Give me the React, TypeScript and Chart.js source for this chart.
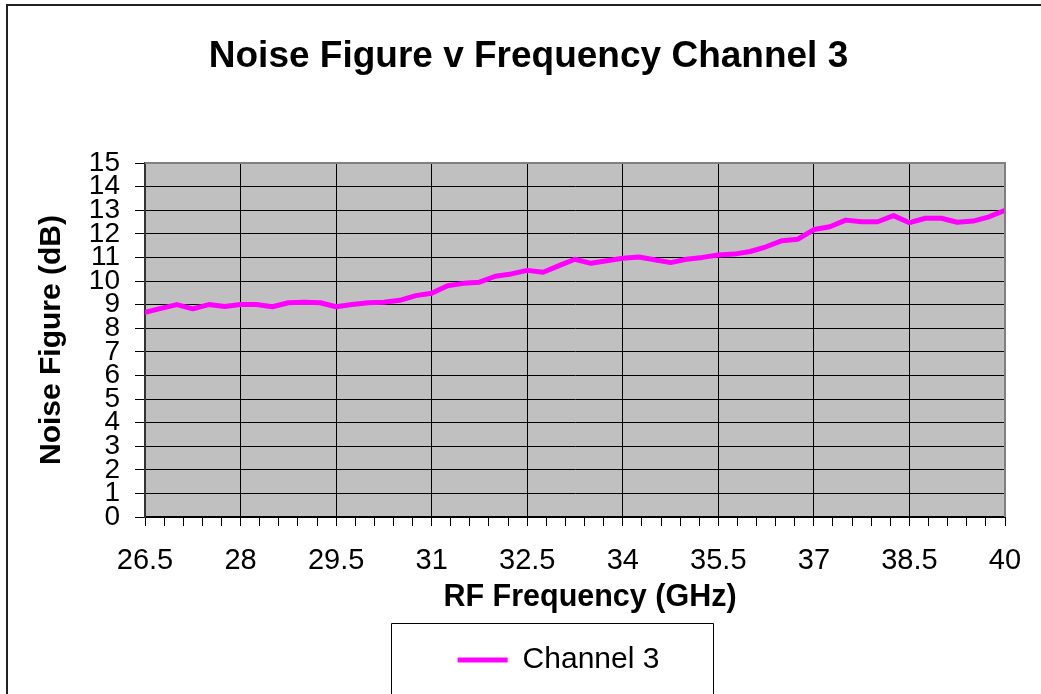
import React, { useEffect, useRef } from "react";
import { Chart, registerables } from "chart.js";

Chart.register(...registerables);

const FREQS = [
  26.5, 26.75, 27.0, 27.25, 27.5, 27.75, 28.0, 28.25, 28.5, 28.75,
  29.0, 29.25, 29.5, 29.75, 30.0, 30.25, 30.5, 30.75, 31.0, 31.25,
  31.5, 31.75, 32.0, 32.25, 32.5, 32.75, 33.0, 33.25, 33.5, 33.75,
  34.0, 34.25, 34.5, 34.75, 35.0, 35.25, 35.5, 35.75, 36.0, 36.25,
  36.5, 36.75, 37.0, 37.25, 37.5, 37.75, 38.0, 38.25, 38.5, 38.75,
  39.0, 39.25, 39.5, 39.75, 40.0,
];

const CHANNEL3_NF = [
  8.67, 8.84, 9.0, 8.82, 9.0, 8.92, 9.0, 9.0, 8.91, 9.08,
  9.1, 9.08, 8.91, 9.0, 9.08, 9.1, 9.18, 9.38, 9.48, 9.8,
  9.9, 9.95, 10.2, 10.3, 10.45, 10.37, 10.65, 10.92, 10.75, 10.86,
  10.96, 11.02, 10.9, 10.78, 10.92, 11.0, 11.1, 11.14, 11.25, 11.45,
  11.71, 11.77, 12.18, 12.3, 12.58, 12.51, 12.51, 12.77, 12.47, 12.66,
  12.66, 12.49, 12.54, 12.72, 13.0,
];

const X_TICK_LABELS = ["26.5", "28", "29.5", "31", "32.5", "34", "35.5", "37", "38.5", "40"];

const FONT = "'Liberation Sans', Arial, Helvetica, sans-serif";

const decorPlugin = {
  id: "decor",
  afterLayout(chart: any) {
    const t = chart.titleBlock;
    if (t) {
      t.left += 21;
      t.right += 21;
    }
    const l = chart.legend;
    if (l) {
      l.left += 51;
      l.right += 51;
    }
    const xs = chart.scales.x;
    if (xs && !xs._titleWrapped) {
      const orig = xs.drawTitle.bind(xs);
      xs.drawTitle = function () {
        this.left += 15;
        this.right += 15;
        orig();
        this.left -= 15;
        this.right -= 15;
      };
      xs._titleWrapped = true;
    }
  },
  beforeDraw(chart: any) {
    const { ctx, chartArea } = chart;
    ctx.save();
    ctx.fillStyle = "#ffffff";
    ctx.fillRect(0, 0, chart.width, chart.height);
    ctx.fillStyle = "#C0C0C0";
    ctx.fillRect(chartArea.left, chartArea.top, chartArea.right - chartArea.left, chartArea.bottom - chartArea.top);
    ctx.restore();
  },
  afterDraw(chart: any) {
    const { ctx, chartArea } = chart;
    ctx.save();
    ctx.strokeStyle = "#808080";
    ctx.lineWidth = 2;
    ctx.beginPath();
    ctx.moveTo(chartArea.left, chartArea.top);
    ctx.lineTo(chartArea.right, chartArea.top);
    ctx.lineTo(chartArea.right, chartArea.bottom);
    ctx.stroke();
    ctx.strokeStyle = "#222222";
    ctx.lineWidth = 2;
    ctx.strokeRect(7, 5, chart.width + 50, chart.height + 50);
    const l = chart.legend;
    if (l && l.legendHitBoxes && l.legendHitBoxes.length) {
      const hb = l.legendHitBoxes[0];
      const boxLeft = Math.round(hb.left - 67);
      const boxRight = Math.round(hb.left + hb.width + 54);
      const boxTop = Math.round(l.top - 12);
      ctx.strokeStyle = "#000000";
      ctx.lineWidth = 1;
      ctx.beginPath();
      ctx.moveTo(boxLeft + 0.5, chart.height + 10);
      ctx.lineTo(boxLeft + 0.5, boxTop + 0.5);
      ctx.lineTo(boxRight + 0.5, boxTop + 0.5);
      ctx.lineTo(boxRight + 0.5, chart.height + 10);
      ctx.stroke();
    }
    ctx.restore();
  },
};

export default function App() {
  const canvasRef = useRef<HTMLCanvasElement | null>(null);

  useEffect(() => {
    const canvas = canvasRef.current;
    if (!canvas) return;
    const points = FREQS.map((f, i) => ({ x: f, y: CHANNEL3_NF[i] }));
    const chart = new Chart(canvas, {
      type: "line",
      data: {
        datasets: [
          {
            label: "Channel 3",
            data: points,
            borderColor: "#FF00FF",
            backgroundColor: "#FF00FF",
            borderWidth: 5,
            pointRadius: 0,
            tension: 0,
            borderJoinStyle: "round",
            borderCapStyle: "round",
          },
        ],
      },
      options: {
        responsive: false,
        animation: false,
        events: [],
        layout: { padding: { left: 10, right: 36, top: 0, bottom: 9 } },
        plugins: {
          title: {
            display: true,
            text: "Noise Figure v Frequency Channel 3",
            color: "#000",
            font: { family: FONT, size: 37, weight: "bold" },
            padding: { top: 35, bottom: 83.6 },
          },
          legend: {
            display: true,
            position: "bottom",
            labels: {
              color: "#000",
              font: { family: FONT, size: 30 },
              usePointStyle: true,
              pointStyle: "line",
              pointStyleWidth: 50,
              padding: 10,
            },
          },
          tooltip: { enabled: false },
        },
        scales: {
          x: {
            type: "linear",
            min: 26.5,
            max: 40,
            afterFit: (scale: any) => {
              scale.height = 118;
            },
            ticks: {
              stepSize: 0.3,
              autoSkip: false,
              maxRotation: 0,
              minRotation: 0,
              color: "#000",
              padding: 18,
              font: { family: FONT, size: 29 },
              callback: (_v: any, i: number) => (i % 5 === 0 ? X_TICK_LABELS[i / 5] : ""),
            },
            grid: {
              color: (c: any) => (c.index % 5 === 0 ? "#000000" : "rgba(0,0,0,0)"),
              tickColor: "#000000",
              tickLength: 9,
              lineWidth: 1,
            },
            border: { color: "#000000", width: 2 },
            title: {
              display: true,
              text: "RF Frequency (GHz)",
              color: "#000",
              font: { family: FONT, size: 30.5, weight: "bold" },
              padding: { top: 0, bottom: 19 },
            },
          },
          y: {
            min: 0,
            max: 15,
            afterFit: (scale: any) => {
              scale.width = 135;
            },
            ticks: {
              stepSize: 1,
              autoSkip: false,
              color: "#000",
              padding: 15,
              font: { family: FONT, size: 28 },
            },
            grid: {
              color: "#000000",
              tickColor: "#000000",
              tickLength: 10,
              lineWidth: 1,
            },
            border: { color: "#333333", width: 2 },
            title: {
              display: true,
              text: "Noise Figure (dB)",
              color: "#000",
              font: { family: FONT, size: 30, weight: "bold" },
              padding: { top: 24, bottom: 0 },
            },
          },
        },
      },
      plugins: [decorPlugin],
    });
    return () => chart.destroy();
  }, []);

  return (
    <div style={{ position: "absolute", left: 0, top: 0, width: 1041, height: 694 }}>
      <canvas ref={canvasRef} width={1041} height={694} style={{ display: "block" }} />
    </div>
  );
}
